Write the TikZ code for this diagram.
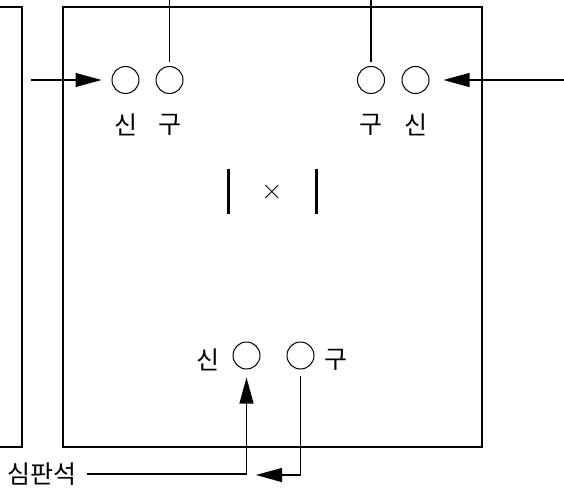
\documentclass[tikz,border=0pt]{standalone}
\usepackage{fontspec}
\newfontfamily\krfont{Noto Sans CJK KR}
\usetikzlibrary{arrows.meta, positioning}

\begin{document}
\begin{tikzpicture}[
				x=1pt, y=1pt,
				node distance=20pt,
				% Styles pour les tables et les jetons
				table/.style={line width=2pt},
				jeton/.style={draw=black, circle, line width=1pt, minimum size=27pt, inner sep=0pt},
				lettre/.style={font=\fontsize{25}{25}\selectfont\krfont, inner sep=0pt},
				fleche/.style={-{Triangle[length=26pt, width=14pt]}, line width=1.1pt},
				fil/.style={line width=1.1pt},
				barre/.style={line width=3pt},
				]
				
				\useasboundingbox (0,0) rectangle (564,488);
				
				
				\draw[table] (0,481) -- (22,481) -- (22,41) -- (0,41);
				\draw[table] (63,41) rectangle (482,481);
				
				
				\node[jeton] (hautG1) at (125.5,408) {};
				\node[jeton] (hautG2) at (169.5,408) {};
				\node[jeton] (hautD1) at (371,408) {};
				\node[jeton] (hautD2) at (415.5,408) {};
				\node[jeton] (basG) at (246.5,132.5) {};
				\node[jeton] (basD) at (300.5,132.5) {};
				
				
				\node[lettre, below=of hautG1] (lettreG1) {신};
				\node[lettre, below=of hautG2] (lettreG2) {구};
				\node[lettre, below=of hautD1] (lettreD1) {구};
				\node[lettre, below=of hautD2] (lettreD2) {신};
				\node[lettre, left=13pt of basG, yshift=-4pt] (lettreBG) {신};
				\node[lettre, right=10pt of basD, yshift=-4pt] (lettreBD) {구};
				
				
				\draw[barre] (228,319) -- (228,274);
				\draw[barre] (316,319) -- (316,274);
				\node[font=\fontsize{30}{30}\selectfont, inner sep=0pt] (croix) at (272,296) {×};
				
				
				\coordinate (haut) at (0,488);
				\coordinate (departG) at (31,408);
				\coordinate (departD) at (564,408);
				\coordinate (retour) at (256,13);
				
				\draw[fleche, shorten >=10pt] (departG) -- (hautG1);
				\draw[fleche, shorten >=14pt] (departD) -- (hautD2);
				\draw[fil, shorten <=4pt] (hautG2.north) -- (hautG2 |- haut);
				\draw[fil, shorten <=4pt] (hautD1.north) -- (hautD1 |- haut);
				
				
				\node[lettre, anchor=east, inner xsep=10pt] (juge) at (87,14) {심판석};
				\draw[fleche, shorten >=8pt] (juge.east) -| (basG);
				\draw[fleche, shorten <=6pt] (basD) |- (retour);
				
			\end{tikzpicture}
\end{document}
